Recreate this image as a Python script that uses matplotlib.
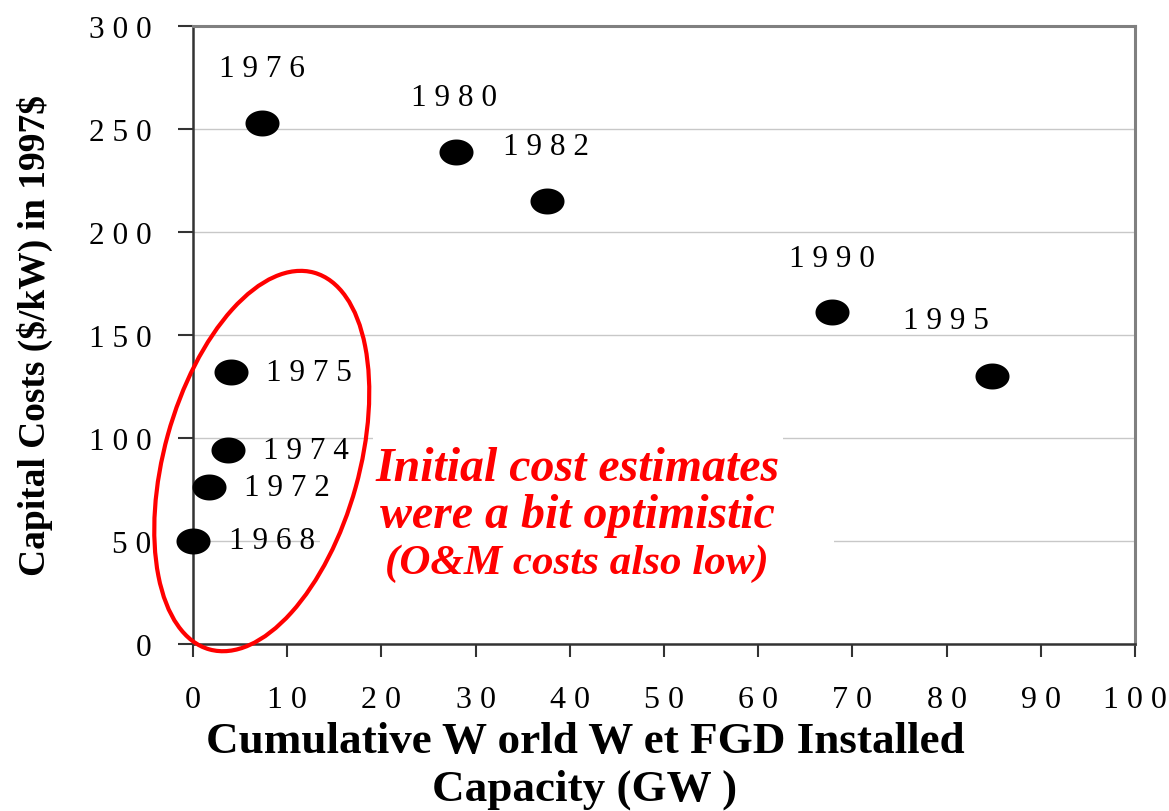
import matplotlib
matplotlib.use("Agg")
import matplotlib.pyplot as plt
import numpy as np
from matplotlib.path import Path
from matplotlib.patches import Ellipse, Rectangle
from matplotlib.transforms import ScaledTranslation

# ---- data ----
years = ["1968", "1972", "1974", "1975", "1976", "1980", "1982", "1990", "1995"]
capacity_gw = [0.0, 1.7, 3.7, 4.0, 7.3, 27.9, 37.6, 67.8, 84.8]
cost_kw = [50, 76, 94, 132, 253, 239, 215, 161, 130]
xticks = [0, 10, 20, 30, 40, 50, 60, 70, 80, 90, 100]
yticks = [0, 50, 100, 150, 200, 250, 300]

# label offsets in points (style, not data)
label_offsets = [(57, 0), (56, 0), (56, 0), (56, 0), (0, 39), (-1, 39), (-1, 39), (0, 39), (-33, 40)]

SERIF = ["Liberation Serif", "DejaVu Serif"]
plt.rcParams["text.parse_math"] = False

def spaced(s):
    return " ".join(list(s))

fig = plt.figure(figsize=(11.69, 8.12), dpi=100)
ax = fig.add_axes([0.1651, 0.2057, 0.8058, 0.7611])

ax.set_xlim(0, 100)
ax.set_ylim(0, 300)

# gridlines
ax.set_axisbelow(True)
ax.yaxis.grid(True, color="#c8c8c8", linewidth=1.0)
ax.xaxis.grid(False)

# spines
for s in ["top", "right"]:
    ax.spines[s].set_color("#808080")
    ax.spines[s].set_linewidth(2.2)
for s in ["left", "bottom"]:
    ax.spines[s].set_color("#333333")
    ax.spines[s].set_linewidth(1.8)

ax.set_xticks(xticks)
ax.set_yticks(yticks)
ax.set_xticklabels([spaced(str(v)) for v in xticks], fontfamily=SERIF, fontsize=23)
ax.set_yticklabels([spaced(str(v)) for v in yticks], fontfamily=SERIF, fontsize=22.5)
ax.tick_params(axis="y", direction="out", length=11, width=1.5, color="#333333", pad=19)
ax.tick_params(axis="x", direction="out", length=9.5, width=1.5, color="#333333", pad=20)

# elliptical marker
t = np.linspace(0, 2 * np.pi, 80)
verts = np.column_stack([1.31 * np.cos(t), np.sin(t)])
codes = [Path.MOVETO] + [Path.LINETO] * (len(verts) - 2) + [Path.CLOSEPOLY]
ell_marker = Path(verts, codes)

ax.scatter(capacity_gw, cost_kw, marker=ell_marker, s=24.5 ** 2, color="black",
           zorder=5, clip_on=False, linewidths=0)

for yr, x, y, off in zip(years, capacity_gw, cost_kw, label_offsets):
    ax.annotate(spaced(yr), (x, y), xytext=off, textcoords="offset points",
                ha="center", va="center", fontfamily=SERIF, fontsize=22.5, color="black",
                zorder=6)

# red ellipse highlighting early estimates
ell = Ellipse((0, 0), 1.95, 3.91, angle=-15.5, fill=False, edgecolor="red", linewidth=3.0,
              transform=fig.dpi_scale_trans + ScaledTranslation(7.3, 88.8, ax.transData),
              clip_on=False, zorder=7)
ax.add_artist(ell)

# white text-box backgrounds behind the annotation (hide gridlines like the original)
ax.add_patch(Rectangle((13.5, 27), 68.0 - 13.5, 75 - 27, facecolor="white",
                       edgecolor="none", zorder=3))
ax.add_patch(Rectangle((19.1, 75), 62.6 - 19.1, 108 - 75, facecolor="white",
                       edgecolor="none", zorder=3))

# annotation text
ann_kw = dict(ha="center", va="center", fontfamily=SERIF, fontweight="bold",
              fontstyle="italic", color="red", zorder=4)
ax.text(40.8, 85.5, "Initial cost estimates", fontsize=34.5, **ann_kw)
ax.text(40.8, 62.5, "were a bit optimistic", fontsize=34.5, **ann_kw)
ax.text(40.8, 39.5, "(O&M costs also low)", fontsize=31, **ann_kw)

# axis labels
fig.text(35 / 1169, 1 - 335 / 812, "Capital Costs ($/kW) in 1997$", rotation=90,
         ha="center", va="center", fontfamily=SERIF, fontsize=27, fontweight="bold")
fig.text(585 / 1169, 1 - 766 / 812, "Cumulative W orld W et FGD Installed\nCapacity (GW )",
         ha="center", va="center", fontfamily=SERIF, fontsize=32.5, fontweight="bold",
         linespacing=1.25)

fig.savefig("out.png", dpi=100)
